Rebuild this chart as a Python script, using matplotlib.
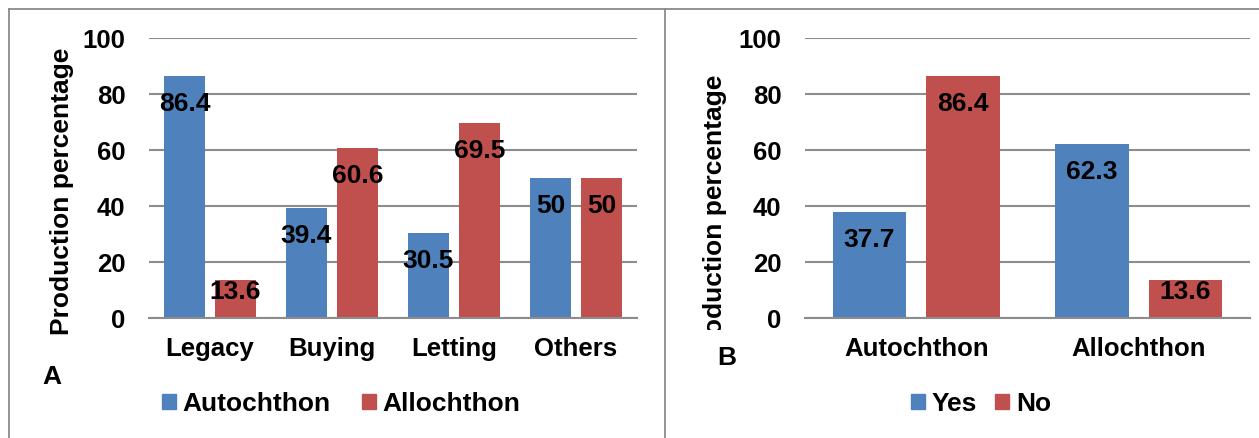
import matplotlib
matplotlib.use("Agg")
import matplotlib.pyplot as plt
from matplotlib.lines import Line2D
from matplotlib.patches import Patch
from matplotlib.transforms import Bbox, TransformedBbox
import numpy as np

# panel A data
uses = ["Legacy", "Buying", "Letting", "Others"]
autochthon = [86.4, 39.4, 30.5, 50]
allochthon = [13.6, 60.6, 69.5, 50]

# panel B data
groups = ["Autochthon", "Allochthon"]
yes_vals = [37.7, 62.3]
no_vals = [86.4, 13.6]

blue = "#4F81BD"
red = "#C0504D"
grid_col = "#8C8C8C"
fsize = 19

plt.rcParams['font.family'] = ['Liberation Sans', 'DejaVu Sans']
plt.rcParams['font.weight'] = 'bold'

W, H = 1259, 438
fig = plt.figure(figsize=(W / 100, H / 100), dpi=100)

def px_axes(left, right, top, bottom):
  # pixel box (from top-left) -> figure fraction
  return fig.add_axes([left / W, 1 - bottom / H, (right - left) / W, (bottom - top) / H])

def style_axes(ax, cats):
  ax.set_ylim(0, 100)
  ax.set_xlim(-0.5, len(cats) - 0.5)
  ax.set_yticks([0, 20, 40, 60, 80, 100])
  ax.set_xticks(np.arange(len(cats)))
  ax.set_xticklabels(cats)
  ax.yaxis.grid(True, color=grid_col, linewidth=1.5)
  ax.set_axisbelow(True)
  for s in ['left', 'right', 'top']:
    ax.spines[s].set_visible(False)
  ax.spines['bottom'].set_color(grid_col)
  ax.spines['bottom'].set_linewidth(1.5)
  ax.tick_params(axis='both', length=0, labelsize=18.5)
  ax.tick_params(axis='y', pad=17)
  ax.tick_params(axis='x', pad=14)

def label_bars(ax, bars, vals):
  for b, v in zip(bars, vals):
    off = -28 if v > 20 else -12 # short bars get the label near the top
    ax.annotate("{:g}".format(v), (b.get_x() + b.get_width() / 2, v),
                xytext=(0, off), textcoords='offset pixels',
                ha='center', va='center', fontsize=fsize, fontweight='bold')

w = 0.33
d = 0.21

# panel A
axA = px_axes(149, 637, 38, 318)
x = np.arange(len(uses))
b1 = axA.bar(x - d, autochthon, w, color=blue)
b2 = axA.bar(x + d, allochthon, w, color=red)
style_axes(axA, uses)
label_bars(axA, b1, autochthon)
label_bars(axA, b2, allochthon)

# panel B
axB = px_axes(805, 1250, 38, 318)
x2 = np.arange(len(groups))
b3 = axB.bar(x2 - d, yes_vals, w, color=blue)
b4 = axB.bar(x2 + d, no_vals, w, color=red)
style_axes(axB, groups)
label_bars(axB, b3, yes_vals)
label_bars(axB, b4, no_vals)

# y labels
fig.text(62 / W, 1 - 191 / H, "Production percentage", rotation=90,
         ha='center', va='center', fontsize=fsize, fontweight='bold')
tB = fig.text(715 / W, 1 - 218 / H, "Production percentage", rotation=90,
              ha='center', va='center', fontsize=fsize, fontweight='bold')
# the second label is cut off at the bottom in the original
clip = TransformedBbox(Bbox([[0, 1 - 330 / H], [1, 1]]), fig.transFigure)
tB.set_clip_box(clip)
tB.set_clip_on(True)

fig.text(52 / W, 1 - 377 / H, "A", ha='center', va='center', fontsize=fsize, fontweight='bold')
fig.text(727 / W, 1 - 358 / H, "B", ha='center', va='center', fontsize=fsize, fontweight='bold')

# legends
legA = fig.legend([Patch(color=blue), Patch(color=red)], ["Autochthon", "Allochthon"],
                  loc='center', bbox_to_anchor=(341 / W, 1 - 404 / H), ncol=2, frameon=False,
                  fontsize=fsize, handlelength=0.53, handleheight=0.53, handletextpad=0.25,
                  columnspacing=1.2, borderpad=0, borderaxespad=0)
legB = fig.legend([Patch(color=blue), Patch(color=red)], ["Yes", "No"],
                  loc='center', bbox_to_anchor=(981 / W, 1 - 404 / H), ncol=2, frameon=False,
                  fontsize=fsize, handlelength=0.53, handleheight=0.53, handletextpad=0.25,
                  columnspacing=0.7, borderpad=0, borderaxespad=0)

# panel borders
bc = "#8A8A8A"
fig.add_artist(Line2D([9 / W, 9 / W], [0, 1 - 9 / H], color=bc, linewidth=1.3, transform=fig.transFigure))
fig.add_artist(Line2D([9 / W, 1], [1 - 9 / H, 1 - 9 / H], color=bc, linewidth=1.3, transform=fig.transFigure))
fig.add_artist(Line2D([665 / W, 665 / W], [0, 1 - 9 / H], color=bc, linewidth=1.3, transform=fig.transFigure))

plt.savefig("out.png", dpi=100)
